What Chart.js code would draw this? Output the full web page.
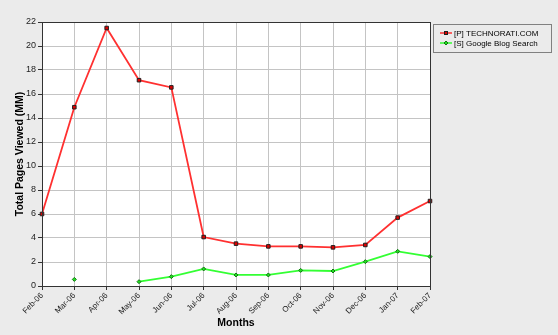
<!DOCTYPE html>
<html>
<head>
<meta charset="utf-8">
<script src="https://cdn.jsdelivr.net/npm/chart.js@4"></script>
<style>
  html, body { margin: 0; padding: 0; background: #ebebeb; }
  #wrap { width: 558px; height: 335px; }
</style>
</head>
<body>
<div id="wrap"><canvas id="myChart" width="558" height="335"></canvas></div>
<script>
const months = ["Feb-06", "Mar-06", "Apr-06", "May-06", "Jun-06", "Jul-06", "Aug-06",
    "Sep-06", "Oct-06", "Nov-06", "Dec-06", "Jan-07", "Feb-07"];
const technorati = [6.0, 14.9, 21.5, 17.15, 16.55, 4.08, 3.53, 3.3, 3.3, 3.22, 3.42, 5.7, 7.08];
const googleBlog = [null, 0.55, null, 0.36, 0.78, 1.42, 0.92, 0.92, 1.3, 1.25, 2.03, 2.89, 2.45];
const seriesNames = ["[P] TECHNORATI.COM", "[S] Google Blog Search"];
const yTitle = "Total Pages Viewed (MM)";
const xTitle = "Months";

const FONT = "'Liberation Sans', Arial, sans-serif";

// background, plot frame and the boxed legend
const framePlugin = {
    id: "frame",
    beforeDraw: function (chart) {
        const ctx = chart.ctx;
        const a = chart.chartArea;
        ctx.save();
        ctx.fillStyle = "#ebebeb";
        ctx.fillRect(0, 0, chart.width, chart.height);
        ctx.fillStyle = "#ffffff";
        ctx.fillRect(a.left, a.top, a.right - a.left, a.bottom - a.top);
        ctx.restore();
    },
    afterDraw: function (chart) {
        const ctx = chart.ctx;
        const a = chart.chartArea;
        ctx.save();
        ctx.strokeStyle = "#333333";
        ctx.lineWidth = 1;
        ctx.strokeRect(Math.round(a.left) + 0.5, Math.round(a.top) + 0.5,
            Math.round(a.right - a.left), Math.round(a.bottom - a.top));

        // legend
        const lx = 433, ly = 24, lw = 118, lh = 28;
        ctx.fillStyle = "#ebebeb";
        ctx.fillRect(lx, ly, lw, lh);
        ctx.strokeStyle = "#808080";
        ctx.strokeRect(lx + 0.5, ly + 0.5, lw, lh);
        ctx.font = "8px " + FONT;
        ctx.textBaseline = "middle";
        chart.data.datasets.forEach(function (ds, i) {
            const y = ly + 9 + i * 10;
            ctx.strokeStyle = ds.borderColor;
            ctx.lineWidth = 1.5;
            ctx.beginPath();
            ctx.moveTo(lx + 7, y);
            ctx.lineTo(lx + 19, y);
            ctx.stroke();
            ctx.fillStyle = ds.pointBackgroundColor;
            ctx.strokeStyle = ds.pointBorderColor;
            ctx.lineWidth = 1;
            if (i === 0) {
                ctx.fillRect(lx + 11, y - 2, 4, 4);
                ctx.strokeRect(lx + 11.5, y - 1.5, 3, 3);
            } else {
                ctx.beginPath();
                ctx.moveTo(lx + 13, y - 2);
                ctx.lineTo(lx + 15, y);
                ctx.lineTo(lx + 13, y + 2);
                ctx.lineTo(lx + 11, y);
                ctx.closePath();
                ctx.fill();
                ctx.stroke();
            }
            ctx.fillStyle = "#000000";
            ctx.fillText(ds.label, lx + 21, y + 0.5);
        });
        ctx.restore();
    }
};

new Chart("myChart", {
    type: "line",
    data: {
        labels: months,
        datasets: [{
                label: seriesNames[0],
                data: technorati,
                borderColor: "#ff3030",
                borderWidth: 1.8,
                lineTension: 0,
                pointStyle: "rect",
                pointRadius: 2.5,
                pointBackgroundColor: "#e00000",
                pointBorderColor: "#202020",
                pointBorderWidth: 1
            }, {
                label: seriesNames[1],
                data: googleBlog,
                borderColor: "#33ff33",
                borderWidth: 1.8,
                lineTension: 0,
                spanGaps: false,
                pointStyle: "rectRot",
                pointRadius: 2,
                pointBackgroundColor: "#22dd22",
                pointBorderColor: "#117711",
                pointBorderWidth: 1
            }]
    },
    options: {
        responsive: false,
        animation: false,
        layout: {
            padding: {left: 14, right: 128, top: 22, bottom: 0}
        },
        scales: {
            x: {
                offset: false,
                grid: {
                    color: "#c4c4c4",
                    lineWidth: 1,
                    tickLength: 4,
                    tickColor: "#333333"
                },
                border: {color: "#333333"},
                ticks: {
                    color: "#222222",
                    font: {family: FONT, size: 8},
                    minRotation: 45,
                    maxRotation: 45,
                    autoSkip: false,
                    padding: 1
                },
                title: {
                    display: true,
                    text: xTitle,
                    color: "#000000",
                    font: {family: FONT, size: 10.5, weight: "bold"},
                    padding: {top: 0, bottom: 6}
                },
                afterFit: function (scale) {
                    scale.height = 335 - 286;
                }
            },
            y: {
                min: 0,
                max: 22,
                grid: {
                    color: "#c4c4c4",
                    lineWidth: 1,
                    tickLength: 4,
                    tickColor: "#333333"
                },
                border: {color: "#333333"},
                ticks: {
                    stepSize: 2,
                    color: "#222222",
                    font: {family: FONT, size: 9},
                    padding: 2
                },
                title: {
                    display: true,
                    text: yTitle,
                    color: "#000000",
                    font: {family: FONT, size: 10.5, weight: "bold"},
                    padding: {top: 0, bottom: 0}
                },
                afterFit: function (scale) {
                    scale.width = 42 - 14;
                }
            }
        },
        plugins: {
            legend: {display: false},
            tooltip: {enabled: false}
        }
    },
    plugins: [framePlugin]
});
</script>
</body>
</html>
